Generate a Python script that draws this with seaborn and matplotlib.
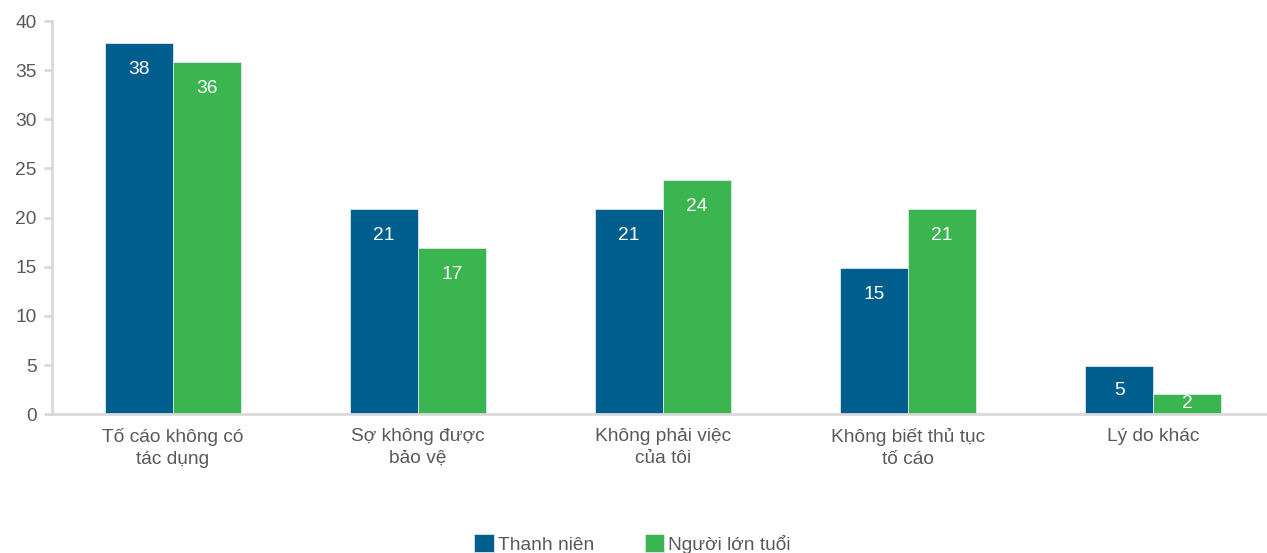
import pandas as pd
import matplotlib
matplotlib.use("Agg")
import matplotlib.pyplot as plt
import seaborn as sns

categories = ["Tố cáo không có\ntác dụng", "Sợ không được\nbảo vệ", "Không phải việc\ncủa tôi",
              "Không biết thủ tục\ntố cáo", "Lý do khác"]
series = ["Thanh niên", "Người lớn tuổi"]
thanh_nien = [37.8, 20.9, 20.9, 14.9, 4.9]
nguoi_lon = [35.8, 16.9, 23.8, 20.9, 2.1]
labels_tn = [38, 21, 21, 15, 5]
labels_nl = [36, 17, 24, 21, 2]
colors = ["#005E8E", "#3AB54F"]

df = pd.DataFrame({
    "category": categories * 2,
    "series": [series[0]] * 5 + [series[1]] * 5,
    "value": thanh_nien + nguoi_lon,
})

sns.set_style("white")
plt.rcParams["font.family"] = ["Liberation Sans", "DejaVu Sans"]
grey = "#595959"
fs = 13.8

fig = plt.figure(figsize=(12.67, 5.53), dpi=100)
ax = fig.add_axes([0.041, 0.251, 0.959, 0.711])
sns.barplot(data=df, x="category", y="value", hue="series", palette=colors,
            saturation=1, width=0.555, ax=ax, edgecolor="#dde8f0", linewidth=0.6)

ax.set_xlim(-0.494, 4.465)
ax.set_ylim(0, 40)
ax.set_yticks(range(0, 41, 5))
ax.set_xlabel("")
ax.set_ylabel("")
for s in ["top", "right"]:
    ax.spines[s].set_visible(False)
for s in ["left", "bottom"]:
    ax.spines[s].set_color("#d9d9d9")
    ax.spines[s].set_linewidth(2)
ax.tick_params(axis="y", length=6, width=2, color="#d9d9d9", labelsize=fs, labelcolor=grey, pad=5, left=True)
ax.tick_params(axis="x", length=0, labelsize=fs, labelcolor=grey, pad=10)
for t in ax.get_xticklabels():
    t.set_linespacing(1.4)

# value labels inside bars
for cont, labs in zip(ax.containers, [labels_tn, labels_nl]):
    for bar, lab in zip(cont, labs):
        v = bar.get_height()
        y = max(v - 2.7, v / 2)
        ax.text(bar.get_x() + bar.get_width() / 2, y, str(lab), ha="center", va="center",
                color="white", fontsize=fs, clip_on=False)

ax.legend(loc="upper center", bbox_to_anchor=(0.478, -0.262), ncol=2, frameon=False,
          fontsize=fs, handlelength=1.0, handleheight=1.0, handletextpad=0.25,
          columnspacing=2.6, labelcolor=grey)

plt.savefig("out.png", dpi=100)
